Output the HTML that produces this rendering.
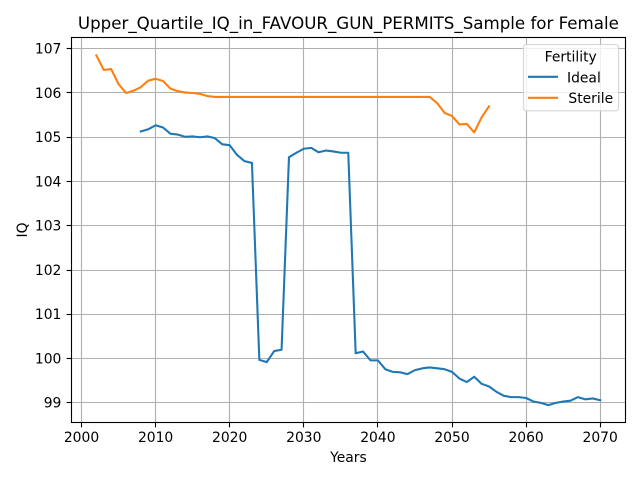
<!DOCTYPE html>
<html lang="en">
<head>
<meta charset="utf-8">
<title>Upper_Quartile_IQ_in_FAVOUR_GUN_PERMITS_Sample for Female</title>
<style>
html,body{margin:0;padding:0;background:#fff;width:640px;height:480px;overflow:hidden}
svg{display:block}
text{font-family:"DejaVu Sans",sans-serif;fill:#000}
</style>
</head>
<body>
<svg id="chart" xmlns="http://www.w3.org/2000/svg" width="640" height="480" viewBox="0 0 640 480">
  <rect x="0" y="0" width="640" height="480" fill="#fff"/>
  <g id="grid"></g>
  <g id="series"></g>
  <rect x="71.5" y="37.5" width="554" height="385" fill="none" stroke="#000" stroke-width="1.11"/>
  <g id="ticks"></g>
  <text x="348.4" y="29" font-size="16.67" text-anchor="middle">Upper_Quartile_IQ_in_FAVOUR_GUN_PERMITS_Sample for Female</text>
  <text x="348.4" y="462" font-size="13.89" text-anchor="middle">Years</text>
  <text transform="translate(27,230) rotate(-90)" font-size="13.89" text-anchor="middle">IQ</text>
  <g>
    <rect x="523.5" y="44.5" width="95" height="66.3" rx="2.8" fill="#fff" fill-opacity="0.8" stroke="#ccc" stroke-opacity="0.8" stroke-width="1.11"/>
    <text x="570.7" y="61.3" font-size="13.89" text-anchor="middle" fill="#262626">Fertility</text>
    <line x1="528" y1="76.8" x2="558" y2="76.8" stroke="#1f77b4" stroke-width="2.08"/>
    <text x="567" y="82.3" font-size="13.89" fill="#262626">Ideal</text>
    <line x1="528" y1="97.8" x2="558" y2="97.8" stroke="#ff7f0e" stroke-width="2.08"/>
    <text x="568.4" y="103" font-size="13.89" fill="#262626">Sterile</text>
  </g>
</svg>
<script>
const xTicks = [2000, 2010, 2020, 2030, 2040, 2050, 2060, 2070];
const yTicks = [99, 100, 101, 102, 103, 104, 105, 106, 107];

const idealYears = [2008,2009,2010,2011,2012,2013,2014,2015,2016,2017,2018,2019,2020,2021,2022,2023,2024,2025,2026,2027,2028,2029,2030,2031,2032,2033,2034,2035,2036,2037,2038,2039,2040,2041,2042,2043,2044,2045,2046,2047,2048,2049,2050,2051,2052,2053,2054,2055,2056,2057,2058,2059,2060,2061,2062,2063,2064,2065,2066,2067,2068,2069,2070];
const idealValues = [105.13,105.18,105.27,105.22,105.08,105.06,105.01,105.02,105.0,105.02,104.98,104.84,104.82,104.6,104.46,104.42,99.97,99.92,100.17,100.2,104.55,104.65,104.74,104.76,104.66,104.7,104.68,104.65,104.65,100.12,100.16,99.96,99.96,99.76,99.7,99.69,99.65,99.74,99.78,99.8,99.78,99.76,99.7,99.55,99.47,99.59,99.43,99.37,99.25,99.16,99.13,99.13,99.11,99.03,99.0,98.95,99.0,99.03,99.05,99.13,99.08,99.1,99.06];

const sterileYears = [2002,2003,2004,2005,2006,2007,2008,2009,2010,2011,2012,2013,2014,2015,2016,2017,2018,2019,2020,2021,2022,2023,2024,2025,2026,2027,2028,2029,2030,2031,2032,2033,2034,2035,2036,2037,2038,2039,2040,2041,2042,2043,2044,2045,2046,2047,2048,2049,2050,2051,2052,2053,2054,2055];
const sterileValues = [106.85,106.52,106.54,106.2,106.0,106.05,106.13,106.28,106.32,106.27,106.1,106.04,106.01,106.0,105.98,105.93,105.91,105.91,105.91,105.91,105.91,105.91,105.91,105.91,105.91,105.91,105.91,105.91,105.91,105.91,105.91,105.91,105.91,105.91,105.91,105.91,105.91,105.91,105.91,105.91,105.91,105.91,105.91,105.91,105.91,105.91,105.77,105.55,105.48,105.29,105.3,105.11,105.45,105.7];

const NS = 'http://www.w3.org/2000/svg';
const frame = { left: 71.5, right: 625.5, top: 37.5, bottom: 422.5 };

function xScale(year) {
  return 155.6 + (year - 2010) * 7.41;
}
function yScale(value) {
  return 358.6 - (value - 100) * 44.27;
}
function snap(v) {
  return Math.floor(v) + 0.5;
}
function make(tag, attrs, parent) {
  const el = document.createElementNS(NS, tag);
  Object.keys(attrs).forEach(function (k) { el.setAttribute(k, attrs[k]); });
  parent.appendChild(el);
  return el;
}

const gridGroup = document.getElementById('grid');
const tickGroup = document.getElementById('ticks');
const seriesGroup = document.getElementById('series');

xTicks.forEach(function (t) {
  const x = snap(xScale(t));
  const g = make('line', { x1: x, x2: x, y1: frame.top, y2: frame.bottom, stroke: '#b0b0b0', 'stroke-width': 1.11 }, gridGroup);
  
  
  const m = make('line', { x1: x, x2: x, y1: frame.bottom, y2: frame.bottom + 4.86, stroke: '#000', 'stroke-width': 1.11 }, tickGroup);
  
  
  const l = make('text', { x: xScale(t), y: 442, 'font-size': 13.89, 'text-anchor': 'middle' }, tickGroup);
  
  
  l.textContent = t;
});

yTicks.forEach(function (t) {
  const y = snap(yScale(t));
  const g = make('line', { x1: frame.left, x2: frame.right, y1: y, y2: y, stroke: '#b0b0b0', 'stroke-width': 1.11 }, gridGroup);
  
  
  const m = make('line', { x1: frame.left - 4.86, x2: frame.left, y1: y, y2: y, stroke: '#000', 'stroke-width': 1.11 }, tickGroup);
  
  
  const l = make('text', { x: 61.4, y: yScale(t) + 4.8, 'font-size': 13.89, 'text-anchor': 'end' }, tickGroup);
  
  
  l.textContent = t;
});

function pathFor(years, values) {
  return years.map(function (yr, i) {
    return (i ? 'L' : 'M') + xScale(yr).toFixed(2) + ' ' + yScale(values[i]).toFixed(2);
  }).join(' ');
}

const idealLine = make('path', { d: pathFor(idealYears, idealValues), fill: 'none', stroke: '#1f77b4', 'stroke-width': 2.08, 'stroke-linejoin': 'round', 'stroke-linecap': 'square' }, seriesGroup);



const sterileLine = make('path', { d: pathFor(sterileYears, sterileValues), fill: 'none', stroke: '#ff7f0e', 'stroke-width': 2.08, 'stroke-linejoin': 'round', 'stroke-linecap': 'square' }, seriesGroup);


</script>
</body>
</html>
